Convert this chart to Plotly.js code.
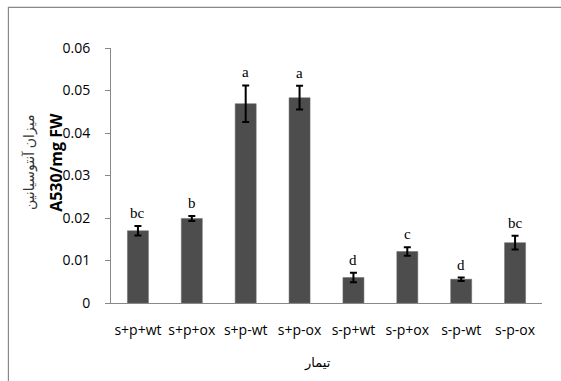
<!DOCTYPE html>
<html>
<head>
<meta charset="utf-8">
<script src="https://cdn.plot.ly/plotly-3.0.1.min.js"></script>
<style>html,body{margin:0;padding:0;background:#fff;}#chart{width:561px;height:381px;}</style>
</head>
<body>
<div id="chart"></div>
<script>
const categories = ["s+p+wt","s+p+ox","s+p-wt","s+p-ox","s-p+wt","s-p+ox","s-p-wt","s-p-ox"];
const values = [0.0170, 0.0199, 0.0469, 0.0483, 0.0060, 0.0121, 0.0056, 0.0142];
const errors = [0.0011, 0.0006, 0.0043, 0.0028, 0.0011, 0.0010, 0.0004, 0.0016];
const letters = ["bc","b","a","a","d","c","d","bc"];
const yTicks = [0, 0.01, 0.02, 0.03, 0.04, 0.05, 0.06];
const yTickLabels = ["0","0.01","0.02","0.03","0.04","0.05","0.06"];
const yTitleFa = "میزان آنتوسیانین";
const yTitleEn = "A530/mg FW";
const xTitle = "تیمار";

const font = "Open Sans, Liberation Sans, sans-serif";

const trace = {
  type: "bar",
  x: categories,
  y: values,
  marker: {color: "#4d4d4d", line: {color: "#6a6a6a", width: 0.5}},
  error_y: {type: "data", array: errors, visible: true, color: "#000", thickness: 2, width: 3.5},
  hoverinfo: "none"
};

const annotations = categories.map((c, i) => ({
  x: c, y: values[i] + errors[i], xref: "x", yref: "y",
  text: letters[i], showarrow: false, yanchor: "middle", yshift: 13,
  font: {family: "Liberation Serif, DejaVu Serif, serif", size: 15, color: "#000"}
}));
annotations.push({
  xref: "paper", yref: "paper", x: -0.19, y: 0.553, text: yTitleFa, textangle: -90,
  showarrow: false, xanchor: "center", yanchor: "middle",
  font: {family: "Noto Sans, DejaVu Sans, sans-serif", size: 14, color: "#333"}
});
annotations.push({
  xref: "paper", yref: "paper", x: -0.128, y: 0.553, text: "<b>" + yTitleEn + "</b>", textangle: -90,
  showarrow: false, xanchor: "center", yanchor: "middle",
  font: {family: font, size: 16, color: "#000"}
});
annotations.push({
  xref: "paper", yref: "paper", x: 0.48, y: -0.23, text: xTitle,
  showarrow: false, xanchor: "center", yanchor: "middle",
  font: {family: "Noto Sans, DejaVu Sans, sans-serif", size: 13, color: "#000"}
});

const layout = {
  width: 561, height: 381,
  margin: {l: 111, r: 19, t: 48, b: 78},
  paper_bgcolor: "#fff", plot_bgcolor: "#fff",
  showlegend: false,
  bargap: 0.61,
  xaxis: {
    type: "category", showline: true, linecolor: "#888", linewidth: 1,
    ticks: "", showgrid: false, zeroline: false,
    tickfont: {family: font, size: 14, color: "#000"},
    ticklabelstandoff: 14
  },
  yaxis: {
    range: [0, 0.06], tickvals: yTicks, ticktext: yTickLabels,
    showline: true, linecolor: "#888", linewidth: 1,
    ticks: "outside", ticklen: 5, tickcolor: "#888",
    showgrid: false, zeroline: false,
    tickfont: {family: font, size: 14, color: "#000"},
    ticklabelstandoff: 12
  },
  annotations: annotations,
  shapes: [{
    type: "rect", xref: "paper", yref: "paper",
    x0: -0.238, x1: 1.2, y0: -0.5, y1: 1.159,
    line: {color: "#888", width: 1.2}, fillcolor: "rgba(0,0,0,0)", layer: "below"
  }]
};

Plotly.newPlot("chart", [trace], layout, {staticPlot: true, displayModeBar: false});
</script>
</body>
</html>
